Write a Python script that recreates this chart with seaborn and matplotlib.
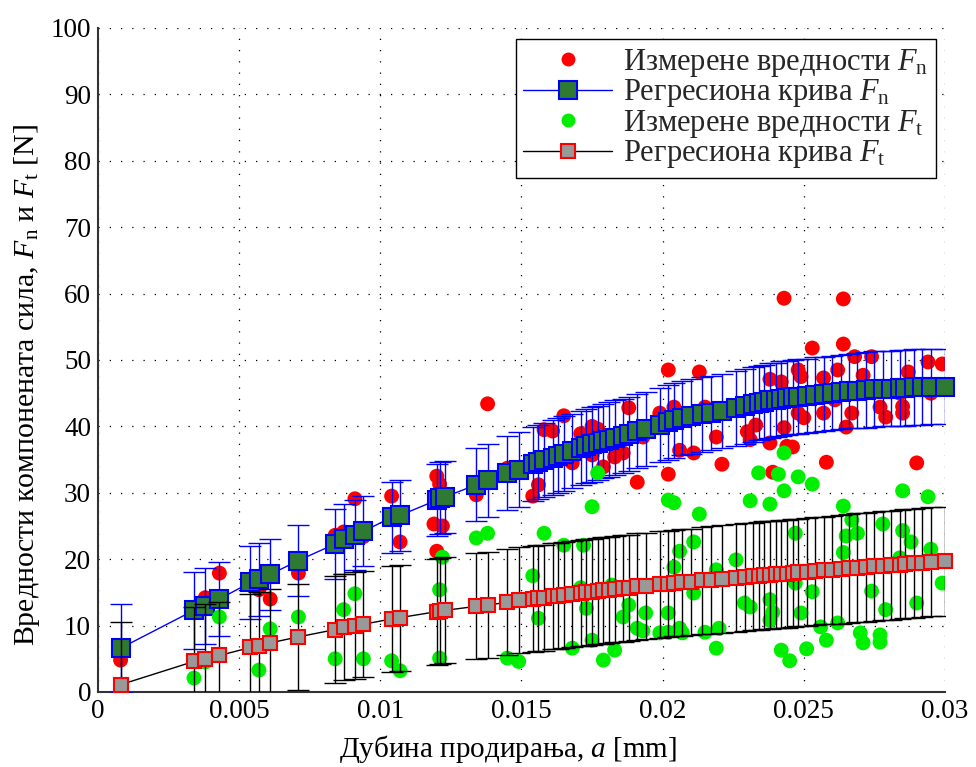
import matplotlib
matplotlib.use("Agg")
import matplotlib.pyplot as plt
from matplotlib.lines import Line2D
import seaborn as sns
import pandas as pd

# ---------------- data ----------------
reg_x = [0.0008, 0.0034, 0.0038, 0.0043, 0.0054, 0.0057, 0.0061, 0.0071,
         0.0084, 0.0087, 0.0091, 0.0094, 0.0104, 0.0107, 0.0120, 0.0121, 0.0123,
         0.0134, 0.0138, 0.0145, 0.0149, 0.0154, 0.0156, 0.0158, 0.0161, 0.0163,
         0.0165, 0.0168, 0.0171, 0.0173, 0.0175, 0.0177, 0.0179, 0.0181, 0.0183,
         0.0186, 0.0188, 0.0191, 0.0194, 0.0199, 0.0202, 0.0204, 0.0207, 0.0210,
         0.0214, 0.0217, 0.0221, 0.0226, 0.0229, 0.0232, 0.0234, 0.0236, 0.0238,
         0.0240, 0.0242, 0.0244, 0.0246, 0.0248, 0.0251, 0.0254, 0.0257, 0.0260,
         0.0263, 0.0266, 0.0269, 0.0272, 0.0275, 0.0278, 0.0281, 0.0284, 0.0286,
         0.0289, 0.0292, 0.0295, 0.0300]
reg_fn = [6.6, 12.3, 13.0, 14.0, 16.5, 17.0, 17.7, 19.8,
          22.3, 23.0, 23.6, 24.2, 26.3, 26.6, 28.9, 29.2, 29.4,
          31.2, 31.9, 33.0, 33.5, 34.3, 34.6, 34.9, 35.3, 35.6,
          35.9, 36.3, 36.7, 37.0, 37.3, 37.5, 37.8, 38.0, 38.3,
          38.6, 38.9, 39.3, 39.6, 40.2, 40.6, 40.9, 41.3, 41.5,
          41.8, 42.0, 42.3, 42.7, 43.0, 43.3, 43.5, 43.7, 43.9,
          44.0, 44.2, 44.3, 44.4, 44.5, 44.6, 44.8, 44.9, 45.0,
          45.2, 45.3, 45.4, 45.5, 45.6, 45.7, 45.7, 45.8, 45.8,
          45.9, 45.9, 46.0, 46.0]
err_fn = [6.6, 5.8, 5.7, 5.6, 5.5, 5.5, 5.4, 5.3,
          5.3, 5.3, 5.3, 5.3, 5.3, 5.3, 5.4, 5.4, 5.4,
          5.5, 5.5, 5.6, 5.6, 5.6, 5.6, 5.6, 5.6, 5.6,
          5.6, 5.6, 5.6, 5.6, 5.6, 5.6, 5.6, 5.6, 5.6,
          5.6, 5.6, 5.6, 5.6, 5.6, 5.6, 5.6, 5.6, 5.6,
          5.6, 5.6, 5.6, 5.6, 5.6, 5.6, 5.6, 5.6, 5.6,
          5.6, 5.6, 5.6, 5.6, 5.6, 5.6, 5.6, 5.6, 5.6,
          5.6, 5.6, 5.6, 5.7, 5.7, 5.7, 5.7, 5.7, 5.7,
          5.7, 5.7, 5.7, 5.7]
reg_ft = [1.1, 4.6, 5.0, 5.5, 6.7, 7.0, 7.4, 8.3,
          9.4, 9.8, 10.0, 10.2, 11.0, 11.2, 12.1, 12.2, 12.3,
          12.9, 13.1, 13.5, 13.8, 14.0, 14.1, 14.2, 14.4, 14.5,
          14.6, 14.7, 14.9, 15.0, 15.1, 15.2, 15.3, 15.4, 15.5,
          15.6, 15.7, 15.9, 16.0, 16.2, 16.3, 16.4, 16.5, 16.6,
          16.8, 16.9, 17.0, 17.2, 17.3, 17.4, 17.5, 17.6, 17.6,
          17.7, 17.8, 17.8, 17.9, 18.0, 18.1, 18.2, 18.3, 18.4,
          18.5, 18.6, 18.7, 18.8, 18.9, 19.0, 19.1, 19.2, 19.3,
          19.4, 19.5, 19.6, 19.7]
err_ft = [9.4, 8.2, 8.2, 8.1, 8.1, 8.1, 8.1, 8.0,
          8.0, 8.0, 8.0, 8.0, 8.0, 8.0, 8.0, 8.0, 8.0,
          8.0, 8.0, 8.0, 8.0, 8.0, 8.0, 8.0, 8.0, 8.0,
          8.0, 8.0, 8.0, 8.0, 8.0, 8.0, 8.0, 8.0, 8.0,
          8.0, 8.0, 8.0, 8.0, 8.0, 8.0, 8.0, 8.0, 8.0,
          8.1, 8.1, 8.1, 8.1, 8.1, 8.1, 8.1, 8.1, 8.1,
          8.1, 8.1, 8.1, 8.1, 8.1, 8.1, 8.1, 8.1, 8.1,
          8.2, 8.2, 8.2, 8.2, 8.2, 8.2, 8.2, 8.2, 8.2,
          8.2, 8.2, 8.2, 8.2]

fn_x = [0.0008, 0.0038, 0.0043, 0.0054, 0.0057, 0.0061, 0.0071, 0.0084, 0.0087,
        0.0091, 0.0094, 0.0104, 0.0107, 0.0120, 0.0121, 0.0119, 0.0122, 0.0120,
        0.0134, 0.0138, 0.0145, 0.0154, 0.0156, 0.0158, 0.0161, 0.0165, 0.0168,
        0.0171, 0.0175, 0.0175, 0.0177, 0.0179, 0.0183, 0.0186, 0.0188, 0.0191,
        0.0193, 0.0199, 0.0202, 0.0202, 0.0204, 0.0206, 0.0213, 0.0211, 0.0215,
        0.0219, 0.0221, 0.0230, 0.0233, 0.0231, 0.0238, 0.0239, 0.0238, 0.0242,
        0.0243, 0.0244, 0.0243, 0.0264, 0.0264, 0.0253, 0.0248, 0.0249, 0.0257,
        0.0262, 0.0268, 0.0274, 0.0271, 0.0294, 0.0299, 0.0287, 0.0248, 0.0250,
        0.0257, 0.0261, 0.0265, 0.0267, 0.0277, 0.0279, 0.0285, 0.0285, 0.0284,
        0.0295, 0.0246, 0.0258, 0.0290]
fn_y = [4.8, 14.2, 17.9, 16.8, 15.4, 14.0, 17.9, 23.6, 24.1,
        29.1, 23.4, 29.5, 22.6, 32.5, 31.3, 25.3, 25.0, 21.2,
        29.7, 43.4, 33.7, 29.5, 31.2, 39.5, 39.3, 41.6, 34.5,
        38.9, 40.0, 35.7, 39.6, 33.9, 35.4, 36.0, 42.8, 31.6,
        38.4, 42.0, 48.5, 32.8, 42.9, 36.4, 48.2, 36.0, 42.9,
        38.4, 34.3, 39.2, 40.2, 38.0, 47.1, 33.1, 37.5, 46.7,
        39.8, 37.0, 59.3, 59.2, 52.4, 51.8, 48.5, 47.5, 47.3,
        48.5, 50.5, 50.5, 47.7, 49.7, 49.4, 48.2, 42.0, 41.3,
        42.0, 44.0, 39.9, 42.0, 42.9, 41.4, 42.0, 43.0, 45.0,
        45.0, 36.9, 34.6, 34.5]

ft_x = [0.0008, 0.0034, 0.0038, 0.0043, 0.0054, 0.0057, 0.0061, 0.0071, 0.0084,
        0.0087, 0.0091, 0.0094, 0.0104, 0.0107, 0.0122, 0.0121, 0.0121, 0.0134,
        0.0138, 0.0145, 0.0149, 0.0154, 0.0156, 0.0158, 0.0165, 0.0168, 0.0171,
        0.0172, 0.0173, 0.0175, 0.0175, 0.0177, 0.0179, 0.0183, 0.0182, 0.0186,
        0.0188, 0.0191, 0.0193, 0.0194, 0.0199, 0.0202, 0.0204, 0.0202, 0.0202,
        0.0206, 0.0204, 0.0206, 0.0207, 0.0213, 0.0211, 0.0211, 0.0215, 0.0219,
        0.0219, 0.0220, 0.0226, 0.0231, 0.0229, 0.0231, 0.0234, 0.0238, 0.0241,
        0.0238, 0.0239, 0.0238, 0.0242, 0.0245, 0.0243, 0.0243, 0.0248, 0.0253,
        0.0264, 0.0285, 0.0294, 0.0267, 0.0265, 0.0269, 0.0278, 0.0285, 0.0288,
        0.0295, 0.0264, 0.0284, 0.0247, 0.0299, 0.0290, 0.0279, 0.0274, 0.0253,
        0.0249, 0.0247, 0.0256, 0.0262, 0.0270, 0.0277, 0.0271, 0.0277, 0.0258,
        0.0251]
ft_y = [0.6, 2.1, 4.5, 11.3, 6.8, 3.3, 9.5, 11.3, 5.0,
        12.4, 14.8, 5.0, 4.7, 3.2, 20.3, 15.4, 5.1, 23.2,
        23.9, 5.1, 4.6, 17.5, 11.1, 23.9, 22.1, 6.6, 15.7,
        22.1, 12.6, 7.8, 27.9, 33.0, 4.8, 6.3, 16.1, 11.3,
        13.1, 9.6, 9.2, 11.9, 8.9, 28.9, 28.5, 11.9, 9.0,
        21.2, 18.8, 9.6, 8.9, 26.8, 22.6, 14.9, 9.0, 6.6,
        18.4, 9.6, 19.9, 28.8, 13.4, 12.8, 33.0, 28.3, 32.8,
        13.9, 12.0, 10.8, 6.3, 4.7, 36.0, 30.3, 32.4, 31.3,
        28.0, 30.3, 29.4, 25.9, 23.5, 23.9, 25.3, 24.3, 22.6,
        21.5, 21.0, 20.2, 23.9, 16.4, 13.4, 12.4, 15.2, 15.1,
        11.9, 16.4, 9.8, 10.4, 8.9, 8.6, 7.4, 7.5, 7.8,
        6.5]

x_ticks = [0, 0.005, 0.01, 0.015, 0.02, 0.025, 0.03]
x_ticklabels = ["0", "0.005", "0.01", "0.015", "0.02", "0.025", "0.03"]
y_ticks = [0, 10, 20, 30, 40, 50, 60, 70, 80, 90, 100]

labels = ["Измерене вредности $F_\\mathrm{n}$",
          "Регресиона крива $F_\\mathrm{n}$",
          "Измерене вредности $F_\\mathrm{t}$",
          "Регресиона крива $F_\\mathrm{t}$"]
xlabel = "Дубина продирања, $a$ [mm]"
ylabel = "Вредности компонената сила, $F_\\mathrm{n}$ и $F_\\mathrm{t}$ [N]"

# ---------------- styling ----------------
sns.set_theme(style="white")
plt.rcParams["font.family"] = ["Liberation Serif", "DejaVu Serif"]
plt.rcParams["mathtext.fontset"] = "custom"
plt.rcParams["mathtext.rm"] = "Liberation Serif"
plt.rcParams["mathtext.it"] = "Liberation Serif:italic"
plt.rcParams["mathtext.bf"] = "Liberation Serif:bold"

RED = "#ff0000"
GREEN = "#00ee00"
BLUE = "#0000ff"
DKGREEN = "#2f7a32"
GRAY = "#999999"

fig = plt.figure(figsize=(9.76, 7.67), dpi=100)
ax = fig.add_axes([0.1004, 0.0978, 0.8678, 0.8657])

reg = pd.DataFrame({"x": reg_x, "fn": reg_fn, "ft": reg_ft,
                    "efn": err_fn, "eft": err_ft})
mfn = pd.DataFrame({"x": fn_x, "y": fn_y})
mft = pd.DataFrame({"x": ft_x, "y": ft_y})

# measured Fn
sns.scatterplot(data=mfn, x="x", y="y", ax=ax, color=RED, s=115,
                edgecolor="none", linewidth=0, zorder=2, legend=False)
# regression Fn
ax.errorbar(reg["x"], reg["fn"], yerr=reg["efn"], fmt="none", ecolor=BLUE,
            elinewidth=1.0, capsize=8, capthick=1.0, zorder=3)
sns.lineplot(data=reg, x="x", y="fn", ax=ax, color=BLUE, lw=1.0,
             marker="s", markersize=13, markerfacecolor=DKGREEN,
             markeredgecolor=BLUE, markeredgewidth=1.5, zorder=3.5,
             legend=False, clip_on=False, sort=False, estimator=None)
# measured Ft
sns.scatterplot(data=mft, x="x", y="y", ax=ax, color=GREEN, s=115,
                edgecolor="none", linewidth=0, zorder=4, legend=False)
# regression Ft
ax.errorbar(reg["x"], reg["ft"], yerr=reg["eft"], fmt="none", ecolor="black",
            elinewidth=1.0, capsize=8, capthick=1.0, zorder=5)
sns.lineplot(data=reg, x="x", y="ft", ax=ax, color="black", lw=1.0,
             marker="s", markersize=9.5, markerfacecolor=GRAY,
             markeredgecolor=RED, markeredgewidth=1.5, zorder=5.5,
             legend=False, clip_on=False, sort=False, estimator=None)

ax.set_xlim(0, 0.03)
ax.set_ylim(0, 100)
ax.set_xticks(x_ticks)
ax.set_xticklabels(x_ticklabels)
ax.set_yticks(y_ticks)
ax.tick_params(axis="both", direction="in", length=7, width=1.0,
               labelsize=19.5, colors="black", pad=5)
ax.grid(True, linestyle=(0, (1, 8)), color="black", linewidth=0.9)
for s in ["top", "right"]:
    ax.spines[s].set_visible(False)
for s in ["left", "bottom"]:
    ax.spines[s].set_color("#333333")
    ax.spines[s].set_linewidth(1.5)

ax.set_xlabel(xlabel, fontsize=21, color="black")
ax.xaxis.set_label_coords(0.484, -0.062)
ax.set_ylabel(ylabel, fontsize=21.5, color="black")
ax.yaxis.set_label_coords(-0.066, 0.462)

handles = [
    Line2D([], [], linestyle="none", marker="o", markersize=10,
           markerfacecolor=RED, markeredgecolor="none"),
    Line2D([], [], color=BLUE, lw=1.0, marker="s", markersize=13,
           markerfacecolor=DKGREEN, markeredgecolor=BLUE, markeredgewidth=1.5),
    Line2D([], [], linestyle="none", marker="o", markersize=10,
           markerfacecolor=GREEN, markeredgecolor="none"),
    Line2D([], [], color="black", lw=1.0, marker="s", markersize=9.5,
           markerfacecolor=GRAY, markeredgecolor=RED, markeredgewidth=1.5),
]
leg = ax.legend(handles, labels, loc="upper right",
                bbox_to_anchor=(0.989, 0.983), borderaxespad=0,
                fontsize=22, frameon=True, fancybox=False, framealpha=1,
                edgecolor="black", handlelength=2.9, handletextpad=0.35,
                labelspacing=-0.05, borderpad=0.25)
leg.get_frame().set_linewidth(1.0)
leg.set_zorder(10)

fig.savefig("out.png", dpi=100)
